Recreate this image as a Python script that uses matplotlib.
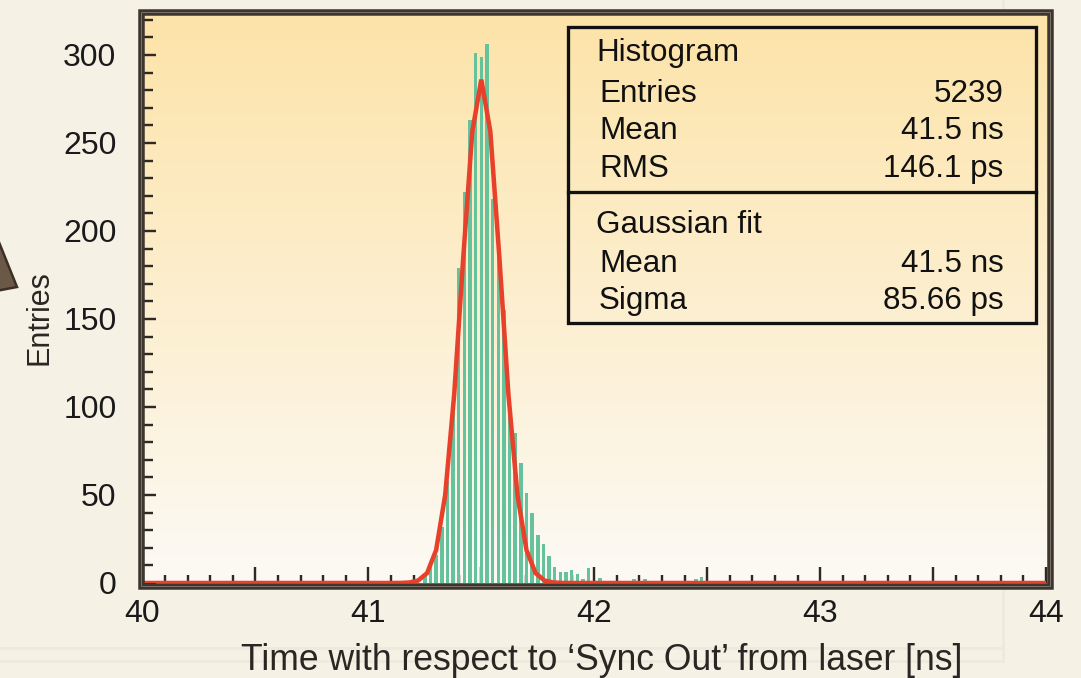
import numpy as np
import matplotlib
matplotlib.use("Agg")
import matplotlib.pyplot as plt
from matplotlib.ticker import MultipleLocator, FuncFormatter
from matplotlib.patches import Rectangle, Polygon
from matplotlib.lines import Line2D

# ---- data -------------------------------------------------------------
bin_width = 0.025          # ns
first_centre = 41.25       # ns, centre of the first filled bin
counts = [4.5, 9, 16, 32, 58, 100, 179, 222, 263, 301, 299, 306, 218, 188,
          155, 105, 85, 68, 51, 40, 27, 22, 15.5, 9.3, 6.3, 6.3, 7.5, 5,
          2.5, 8.5, 0, 3, 0, 0, 1, 1, 0, 2, 0, 2, 1, 0, 0, 0, 0, 0, 0, 0,
          2, 3.5, 0, 0, 0, 1]

stats_title = "Histogram"
stats_labels = ["Entries", "Mean", "RMS"]
stats_values = ["5239", "41.5 ns", "146.1 ps"]
fit_title = "Gaussian fit"
fit_labels = ["Mean", "Sigma"]
fit_values = ["41.5 ns", "85.66 ps"]

fit_mean = 41.5            # ns
fit_sigma = 85.66e-3       # ns
fit_amplitude = 286        # entries at the peak
fit_step = 0.04            # ns between curve samples

x_range = (40, 44)
x_ticks = [40, 41, 42, 43, 44]
y_ticks = [0, 50, 100, 150, 200, 250, 300]

# ---- figure -----------------------------------------------------------
W, H = 1081, 678
FONT = "Liberation Sans"
plt.rcParams["font.family"] = [FONT, "DejaVu Sans"]

fig = plt.figure(figsize=(W / 100, H / 100), dpi=100)
fig.patch.set_facecolor("#f6f1e5")


def fx(px):
    return px / W


def fy(py):
    return 1 - py / H


def pt(px):
    return px * 72 / 100


# faint slide edges behind the chart
for yy in (648, 661):
    fig.add_artist(Line2D([0, fx(1003)], [fy(yy), fy(yy)], color="#eee9dd",
                          lw=pt(2.5), zorder=0))
fig.add_artist(Line2D([fx(1003), fx(1003)], [fy(0), fy(661)], color="#eee9dd",
                      lw=pt(2.5), zorder=0))

# decorative triangle at the left border
tri = Polygon([[fx(-20), fy(195)], [fx(17), fy(287)], [fx(-20), fy(294)]],
              closed=True, facecolor="#6b5947", edgecolor="#3b2f26",
              lw=pt(2.5), transform=fig.transFigure, zorder=1)
fig.add_artist(tri)

x0, x1 = 142.5, 1046.0
y_top, y_zero = 14.0, 583.0
ax = fig.add_axes([fx(x0), fy(y_zero), (x1 - x0) / W, (y_zero - y_top) / H])
ymax = (y_zero - y_top) / 1.76
ax.set_xlim(*x_range)
ax.set_ylim(0, ymax)

# vertical colour gradient of the plotting area
top_c = np.array([253, 227, 168]) / 255
bot_c = np.array([252, 250, 245]) / 255
t = np.linspace(0, 1, 256)[:, None]
grad = (top_c[None, :] * (1 - t) + bot_c[None, :] * t)[:, None, :]
ax.imshow(grad, extent=[x_range[0], x_range[1], 0, ymax], aspect="auto",
          zorder=0, interpolation="bilinear")

# histogram bars
centres = first_centre + bin_width * np.arange(len(counts))
ax.bar(centres, counts, width=bin_width * 0.62, color="#66c29d",
       linewidth=0, zorder=2)

# Gaussian fit curve, sampled the way the fitting package draws it
k_lo = int(np.ceil((x_range[0] - fit_mean) / fit_step))
k_hi = int(np.floor((x_range[1] - fit_mean) / fit_step))
xs = fit_mean + fit_step * np.arange(k_lo, k_hi + 1)
xs = np.concatenate([[x_range[0]], xs, [x_range[1]]])
ys = fit_amplitude * np.exp(-0.5 * ((xs - fit_mean) / fit_sigma) ** 2)
ax.plot(xs, ys, color="#e8412b", lw=pt(4.5), zorder=3, solid_joinstyle="miter")

# axes decoration
for s in ax.spines.values():
    s.set_visible(False)
ax.xaxis.set_major_locator(MultipleLocator(0.5))
ax.xaxis.set_minor_locator(MultipleLocator(0.1))
ax.xaxis.set_major_formatter(FuncFormatter(
    lambda v, p: f"{v:.0f}" if round(v) in x_ticks and abs(v - round(v)) < 1e-6 else ""))
ax.yaxis.set_major_locator(MultipleLocator(50))
ax.yaxis.set_minor_locator(MultipleLocator(10))
ax.yaxis.set_major_formatter(FuncFormatter(lambda v, p: f"{v:.0f}"))
tick_c = "#2e2925"
ax.tick_params(axis="x", which="major", direction="in", length=pt(16),
               width=pt(2.4), color=tick_c, pad=pt(16), labelsize=23,
               labelcolor="#1a1a1a", top=False)
ax.tick_params(axis="x", which="minor", direction="in", length=pt(8),
               width=pt(2.4), color=tick_c, top=False)
ax.tick_params(axis="y", which="major", direction="in", length=pt(13),
               width=pt(2.4), color=tick_c, pad=pt(26), labelsize=23,
               labelcolor="#1a1a1a", right=False)
ax.tick_params(axis="y", which="minor", direction="in", length=pt(10),
               width=pt(2.4), color=tick_c, right=False)

# thick frame around the plotting area
frame = Rectangle((fx(140.5), fy(585.5)), fx(1049.5) - fx(140.5),
                  fy(12) - fy(585.5), transform=fig.transFigure,
                  fill=False, edgecolor="#3c3530", lw=pt(6.5), zorder=5)
fig.add_artist(frame)
inner = Rectangle((fx(140.5), fy(585.5)), fx(1049.5) - fx(140.5),
                  fy(12) - fy(585.5), transform=fig.transFigure,
                  fill=False, edgecolor="#8a7f70", lw=pt(0.8), zorder=6)
fig.add_artist(inner)

# statistics box
bx0, bx1, by0, by1, bdiv = 567.5, 1035.5, 27.0, 322.5, 191.5
fig.add_artist(Rectangle((fx(bx0), fy(by1)), fx(bx1) - fx(bx0),
                         fy(by0) - fy(by1), transform=fig.transFigure,
                         fill=False, edgecolor="#111111", lw=pt(3.3), zorder=6))
fig.add_artist(Line2D([fx(bx0), fx(bx1)], [fy(bdiv), fy(bdiv)],
                      color="#111111", lw=pt(3.3), zorder=6))

fs_box = 22.6
fig.text(fx(596), fy(60.7), stats_title, ha="left", va="baseline",
         fontsize=fs_box, color="#111111")
for lab, val, base in zip(stats_labels, stats_values, [102.3, 139, 176.7]):
    fig.text(fx(599), fy(base), lab, ha="left", va="baseline",
             fontsize=fs_box, color="#111111")
    fig.text(fx(1003.5), fy(base), val, ha="right", va="baseline",
             fontsize=fs_box, color="#111111")
fig.text(fx(596), fy(233.3), fit_title, ha="left", va="baseline",
         fontsize=fs_box, color="#111111")
for lab, val, base in zip(fit_labels, fit_values, [271.7, 309]):
    fig.text(fx(599), fy(base), lab, ha="left", va="baseline",
             fontsize=fs_box, color="#111111")
    fig.text(fx(1003.5), fy(base), val, ha="right", va="baseline",
             fontsize=fs_box, color="#111111")

# axis titles
fig.text(fx(602), fy(670), "Time with respect to \u2018Sync Out\u2019 from laser [ns]",
         ha="center", va="baseline", fontsize=25.6, color="#2a2623")
fig.text(fx(40), fy(318), "Entries", rotation=90, ha="center", va="center",
         fontsize=22, color="#2a2623")

fig.savefig("out.png", dpi=100, facecolor=fig.get_facecolor())
